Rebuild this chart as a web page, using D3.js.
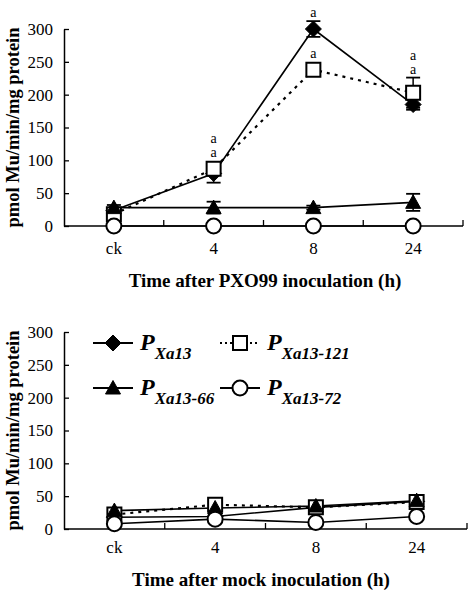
<!DOCTYPE html>
<html><head><meta charset="utf-8">
<script src="https://cdn.jsdelivr.net/npm/d3@7"></script>
<style>body{margin:0;background:#fff}svg{display:block}svg text{font-family:"Liberation Serif","DejaVu Serif",serif}</style>
</head><body>
<svg id="c" width="471" height="591"></svg>
<script>
const categories = ["ck", "4", "8", "24"];
const yTicks = [0, 50, 100, 150, 200, 250, 300];
const seriesKeys = ["Xa13", "Xa13-121", "Xa13-66", "Xa13-72"];
const seriesMarkers = ["diamond", "square", "triangle", "circle"];
const seriesDash = [null, "3,5", null, null];

// PXO99 inoculation
const pxoXa13 = [24, 80, 300, 185];
const pxoXa13Err = [3, 14, 12, 8];
const pxoXa13_121 = [18, 87, 238, 203];
const pxoXa13_121Err = [4, 9, 5, 23];
const pxoXa13_66 = [28, 28, 28, 36];
const pxoXa13_66Err = [4, 9, 3, 13];
const pxoXa13_72 = [0, 0, 0, 0];
const pxoXa13_72Err = [0, 0, 0, 0];
const pxoLetterXa13 = ["", "a", "a", "a"];
const pxoLetterXa13_121 = ["", "a", "a", "a"];

// mock inoculation
const mockXa13 = [18, 19, 33, 42];
const mockXa13Err = [3, 3, 3, 3];
const mockXa13_121 = [22, 37, 33, 41];
const mockXa13_121Err = [3, 3, 3, 3];
const mockXa13_66 = [28, 32, 35, 43];
const mockXa13_66Err = [3, 3, 3, 3];
const mockXa13_72 = [8, 15, 10, 19];
const mockXa13_72Err = [2, 2, 2, 2];

const yTitle = "pmol Mu/min/mg protein";
const xTitlePxo = "Time after PXO99 inoculation (h)";
const xTitleMock = "Time after mock inoculation (h)";

const svg = d3.select("#c");
const SERIF = '"Liberation Serif","DejaVu Serif",serif';

function markerPath(type) {
  if (type === "diamond") return "M0,-8L8,0L0,8L-8,0Z";
  if (type === "triangle") return "M0,-7.5L7.5,6L-7.5,6Z";
  if (type === "square") return "M-7,-7H7V7H-7Z";
  return null;
}
function drawMarker(g, type, x, y) {
  if (type === "circle") {
    g.append("circle").attr("cx", x).attr("cy", y).attr("r", 7.5)
      .attr("fill", "#fff").attr("stroke", "#000").attr("stroke-width", 2);
  } else {
    g.append("path").attr("d", markerPath(type)).attr("transform", `translate(${x},${y})`)
      .attr("fill", type === "square" ? "#fff" : "#000")
      .attr("stroke", "#000").attr("stroke-width", type === "square" ? 2 : 1);
  }
}

function drawPanel(cfg) {
  const g = svg.append("g");
  const x = d3.scaleBand().domain(categories).range(cfg.xr);
  const y = d3.scaleLinear().domain([0, 300]).range(cfg.yr);
  const cx = c => x(c) + x.bandwidth() / 2;

  const ya = d3.axisLeft(y).tickValues(yTicks).tickSizeInner(-5).tickSizeOuter(0).tickPadding(11);
  const yg = g.append("g").attr("transform", `translate(${cfg.xr[0]},0)`).call(ya);
  yg.attr("font-family", null);
  yg.select(".domain").attr("stroke-width", 1.5);
  yg.selectAll(".tick line").attr("stroke-width", 1.3);
  yg.selectAll("text").style("font-family", SERIF).style("font-size", "17px").attr("fill", "#000");

  g.append("line").attr("x1", cfg.xr[0]).attr("x2", cfg.xr[1])
    .attr("y1", cfg.yr[0]).attr("y2", cfg.yr[0]).attr("stroke", "#000").attr("stroke-width", 1.5);
  categories.forEach(c => {
    const bx = x(c) + x.bandwidth();
    g.append("line").attr("x1", bx).attr("x2", bx).attr("y1", cfg.yr[0]).attr("y2", cfg.yr[0] - 6)
      .attr("stroke", "#000").attr("stroke-width", 1.3);
    g.append("text").attr("x", cx(c)).attr("y", cfg.yr[0] + cfg.tickLabelDy)
      .attr("text-anchor", "middle").style("font-family", SERIF).style("font-size", "17px").text(c);
  });

  g.append("text").attr("x", cfg.xTitleX).attr("y", cfg.xTitleY).attr("text-anchor", "middle")
    .style("font-family", SERIF).style("font-weight", "bold").style("font-size", "19px").text(cfg.xTitle);
  const ym = (cfg.yr[0] + cfg.yr[1]) / 2;
  g.append("text").attr("transform", `translate(19,${ym}) rotate(-90)`).attr("text-anchor", "middle")
    .style("font-family", SERIF).style("font-weight", "bold").style("font-size", "18.5px").text(yTitle);

  const line = d3.line().x((d, i) => cx(categories[i])).y(d => y(d));
  cfg.series.forEach((s, k) => {
    g.append("path").attr("d", line(s.v)).attr("fill", "none").attr("stroke", "#000")
      .attr("stroke-width", seriesDash[k] ? 2.2 : 1.6)
      .attr("stroke-dasharray", seriesDash[k]);
  });
  cfg.series.forEach((s, k) => {
    s.v.forEach((v, i) => {
      const e = s.e[i];
      if (!e) return;
      const xx = cx(categories[i]);
      g.append("line").attr("x1", xx).attr("x2", xx).attr("y1", y(v - e)).attr("y2", y(v + e))
        .attr("stroke", "#000").attr("stroke-width", 1.5);
      [v - e, v + e].forEach(t => g.append("line").attr("x1", xx - 7).attr("x2", xx + 7)
        .attr("y1", y(t)).attr("y2", y(t)).attr("stroke", "#000").attr("stroke-width", 1.8));
    });
  });
  cfg.series.forEach((s, k) => {
    s.v.forEach((v, i) => drawMarker(g, seriesMarkers[k], cx(categories[i]), y(v)));
  });
  if (cfg.letters) {
    categories.forEach((c, i) => {
      const items = [];
      cfg.series.forEach((s, k) => {
        const L = cfg.letters[k];
        if (L && L[i]) items.push({ l: L[i], top: Math.min(y(s.v[i] + s.e[i]), y(s.v[i]) - 8) });
      });
      items.sort((a, b) => a.top - b.top);
      const groups = [];
      items.forEach(it => {
        const gp = groups.find(gq => Math.abs(gq.top - it.top) < 25);
        if (gp) gp.n.push(it.l); else groups.push({ top: it.top, n: [it.l] });
      });
      groups.forEach(gp => {
        gp.n.forEach((l, j) => {
          g.append("text").attr("text-anchor", "middle")
            .style("font-family", SERIF).style("font-size", "14px")
            .attr("x", cx(c)).attr("y", gp.top - 4 - 14 * j).text(l);
        });
      });
    });
  }
  return g;
}

drawPanel({
  xr: [64, 463], yr: [226, 29], tickLabelDy: 28, xTitleX: 265, xTitleY: 287, xTitle: xTitlePxo,
  series: [
    { v: pxoXa13, e: pxoXa13Err },
    { v: pxoXa13_121, e: pxoXa13_121Err },
    { v: pxoXa13_66, e: pxoXa13_66Err },
    { v: pxoXa13_72, e: pxoXa13_72Err }
  ],
  letters: [pxoLetterXa13, pxoLetterXa13_121, null, null]
});
const bottom = drawPanel({
  xr: [64, 467], yr: [529, 332], tickLabelDy: 24, xTitleX: 261, xTitleY: 586, xTitle: xTitleMock,
  series: [
    { v: mockXa13, e: mockXa13Err },
    { v: mockXa13_121, e: mockXa13_121Err },
    { v: mockXa13_66, e: mockXa13_66Err },
    { v: mockXa13_72, e: mockXa13_72Err }
  ]
});

const legendCols = [93, 220];
const legendRows = [343, 388];
seriesKeys.forEach((key, k) => {
  const col = k === 0 || k === 2 ? 0 : 1;
  const row = k < 2 ? 0 : 1;
  const lx = legendCols[col], ly = legendRows[row];
  const lg = bottom.append("g");
  lg.append("line").attr("x1", lx).attr("x2", lx + 40).attr("y1", ly).attr("y2", ly)
    .attr("stroke", "#000").attr("stroke-width", seriesDash[k] ? 2 : 2.2)
    .attr("stroke-dasharray", seriesDash[k] ? "2,3" : null);
  drawMarker(lg, seriesMarkers[k], lx + 20, ly);
  const t = lg.append("text").attr("x", lx + 47).attr("y", ly + 7)
    .style("font-family", SERIF).style("font-weight", "bold").style("font-style", "italic");
  t.append("tspan").style("font-size", "24px").text("P");
  t.append("tspan").style("font-size", "17px").attr("dy", 9).text(key);
});
</script>
</body></html>
